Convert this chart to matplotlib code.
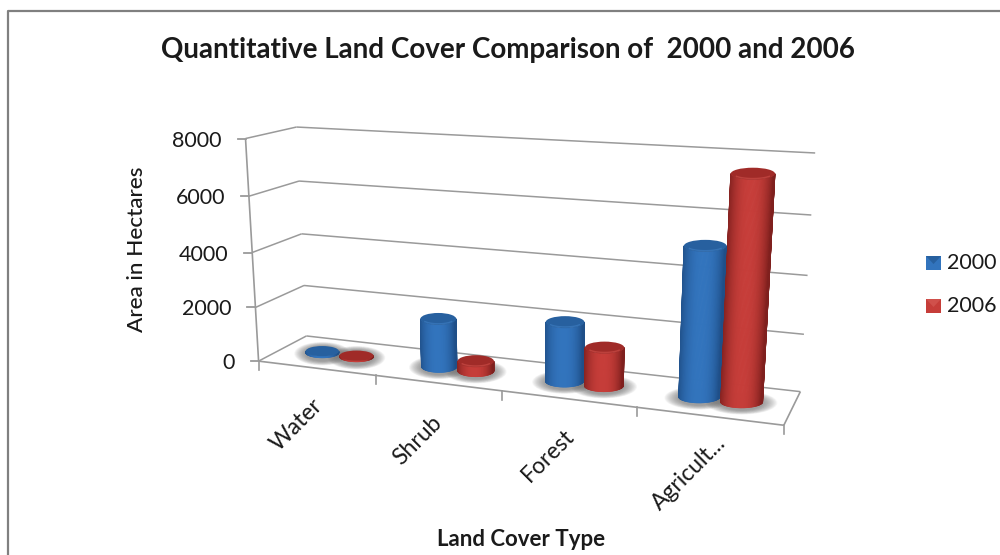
#!/usr/bin/env python3
import numpy as np
import matplotlib
matplotlib.use('Agg')
import matplotlib.pyplot as plt
from matplotlib.collections import PolyCollection
from matplotlib.patches import Ellipse, Polygon, Rectangle

plt.rcParams['font.family'] = ['Lato', 'DejaVu Sans']

categories = ['Water', 'Shrub', 'Forest', 'Agricult...']
series_names = ['2000', '2006']
values_2000 = [60, 1750, 2100, 5100]
values_2006 = [40, 350, 1350, 7500]
y_ticks = [0, 2000, 4000, 6000, 8000]
Y_MAX = 8000

BLUE = {'dark': '#1f4f88', 'light': '#3274bd', 'top': '#27609f', 'rim': '#3f7fc4'}
RED = {'dark': '#7f201e', 'light': '#c63d39', 'top': '#a02b28', 'rim': '#d0504b'}
GRID = '#9a9a9a'
TEXT = '#1a1a1a'

# chart box calibration: (category, depth, height) -> canvas position
calib = [
    (0, 0, 0, 259, 360), (0, 0, 1, 245, 139), (0, 1, 0, 306, 336), (0, 1, 1, 297, 127),
    (4, 0, 0, 784, 425), (4, 1, 0, 800, 392), (4, 1, 1, 815, 153),
    (1, 0, 0, 376, 377), (2, 0, 0, 502, 391), (3, 0, 0, 637, 407),
    (0, 0, 0.5, 252, 252), (4, 1, 0.5, 808, 275),
]


def fit_camera(points):
    rows = []
    for u, d, h, px, py in points:
        p = [u, d, h, 1]
        rows.append(p + [0, 0, 0, 0] + [-px / 1000 * c for c in p])
        rows.append([0, 0, 0, 0] + p + [-py / 1000 * c for c in p])
    _, _, vt = np.linalg.svd(np.array(rows))
    return vt[-1].reshape(3, 4)


CAM = fit_camera(calib)


def project(u, d, h):
    out = CAM @ np.array([u, d, h, 1.0])
    return out[0] / out[2] * 1000, out[1] / out[2] * 1000


def seg(ax, a, b, lw=1.1, color=GRID, z=1):
    xa, ya = project(*a)
    xb, yb = project(*b)
    ax.plot([xa, xb], [ya, yb], color=color, lw=lw, zorder=z, solid_capstyle='butt')


def mix(c1, c2, t):
    a = np.array(matplotlib.colors.to_rgb(c1))
    b = np.array(matplotlib.colors.to_rgb(c2))
    return tuple(a + (b - a) * t)


R_U = 0.147
LID_H = 12


def half_width(uc, h):
    xl, _ = project(uc - R_U, 0.5, h)
    xr, _ = project(uc + R_U, 0.5, h)
    return (xr - xl) / 2


def draw_shadow(ax, uc):
    x, y = project(uc, 0.5, 0)
    w = half_width(uc, 0)
    for k in np.linspace(1.7, 1.0, 24):
        ax.add_patch(Ellipse((x, y + 1), 2 * w * k, LID_H * k + 3, fc='#6e6e6e', ec='none',
                             alpha=0.04, zorder=2))


def draw_cylinder(ax, uc, value, pal, z):
    h = value / Y_MAX
    xb, yb = project(uc, 0.5, 0)
    xt, yt = project(uc, 0.5, h)
    wb, wt = half_width(uc, 0), half_width(uc, h)
    lid = LID_H if value > 200 else LID_H * 0.85

    # side wall as thin vertical strips between the two lower half-ellipses
    t = np.linspace(np.pi, 0, 81)
    polys, cols = [], []
    for a0, a1 in zip(t[:-1], t[1:]):
        c0, c1 = np.cos(a0), np.cos(a1)
        s0, s1 = np.sin(a0), np.sin(a1)
        polys.append([(xb + wb * c0, yb + lid / 2 * s0), (xb + wb * c1, yb + lid / 2 * s1),
                      (xt + wt * c1, yt + lid / 2 * s1), (xt + wt * c0, yt + lid / 2 * s0)])
        s = (c0 + c1) / 2
        cols.append(mix(pal['dark'], pal['light'], np.clip(1 - abs(s + 0.05) ** 2.4, 0, 1)))
    ax.add_collection(PolyCollection(polys, facecolors=cols, edgecolors=cols, linewidths=0.5, zorder=z))

    # lid with a lighter lower rim
    ax.add_patch(Ellipse((xt, yt), 2 * wt, lid, fc=pal['top'], ec='none', zorder=z + 0.1))
    if value > 200:
        a = np.linspace(np.pi * 0.82, np.pi * 0.18, 30)
        ax.plot(xt + 0.88 * wt * np.cos(a), yt + 0.8 * lid / 2 * np.sin(a), color=pal['rim'], lw=1.0,
                alpha=0.6, zorder=z + 0.2)


fig = plt.figure(figsize=(10, 5.55), dpi=100)
ax = fig.add_axes([0, 0, 1, 1])
ax.set_xlim(0, 1000)
ax.set_ylim(555, 0)
ax.axis('off')

# outer chart border
ax.plot([8, 8, 1000], [555, 11, 11], color='#808080', lw=1.6, zorder=1)

# walls, floor and ticks
for val in y_ticks:
    h = val / Y_MAX
    seg(ax, (0, 0, h), (0, 1, h))
    seg(ax, (0, 1, h), (4, 1, h))
    x0, y0 = project(0, 0, h)
    ax.plot([x0 - 8, x0], [y0, y0], color=GRID, lw=1.3, zorder=1)
    ax.text(x0 - 24, y0 + 2, str(val), ha='right', va='center', fontsize=15.5, color=TEXT)
seg(ax, (0, 0, 0), (0, 0, 1), lw=1.2)
seg(ax, (0, 0, 0), (4, 0, 0), lw=1.2)
seg(ax, (4, 0, 0), (4, 1, 0), lw=1.2)
for i in range(len(categories) + 1):
    x0, y0 = project(i, 0, 0)
    ax.plot([x0, x0], [y0, y0 + 9], color=GRID, lw=1.2, zorder=1)

for i, name in enumerate(categories):
    x0, y0 = project(i + 0.5, 0, 0)
    ax.text(x0 - 20, y0 + 57, name, rotation=45, rotation_mode='anchor', ha='center', va='center',
            fontsize=16.5, color=TEXT)

for i in range(len(categories)):
    ub, ur = i + 0.5 - 0.15, i + 0.5 + 0.15
    draw_shadow(ax, ub)
    draw_shadow(ax, ur)
    draw_cylinder(ax, ub, values_2000[i], BLUE, 3 + i)
    draw_cylinder(ax, ur, values_2006[i], RED, 3.5 + i)

ax.text(508, 50, 'Quantitative Land Cover Comparison of  2000 and 2006', ha='center', va='center',
        fontsize=20, fontweight='bold', color=TEXT)
ax.text(137, 249, 'Area in Hectares', rotation=90, ha='center', va='center', fontsize=16.2,
        fontweight='medium', color=TEXT)
ax.text(521, 540, 'Land Cover Type', ha='center', va='center', fontsize=16, fontweight='bold',
        color=TEXT)

# legend swatches
for name, pal, ypos in zip(series_names, [BLUE, RED], [263, 306]):
    ax.add_patch(Rectangle((926, ypos - 7), 15, 14, fc=pal['light'], ec='none', zorder=5))
    ax.add_patch(Polygon([(926, ypos - 7), (941, ypos - 7), (933.5, ypos + 1)], closed=True,
                         fc=pal['top'] if pal is BLUE else pal['rim'], ec='none', zorder=6))
    ax.text(947, ypos, name, ha='left', va='center', fontsize=15.5, color=TEXT)

fig.savefig('out.png', dpi=100)
plt.close(fig)
